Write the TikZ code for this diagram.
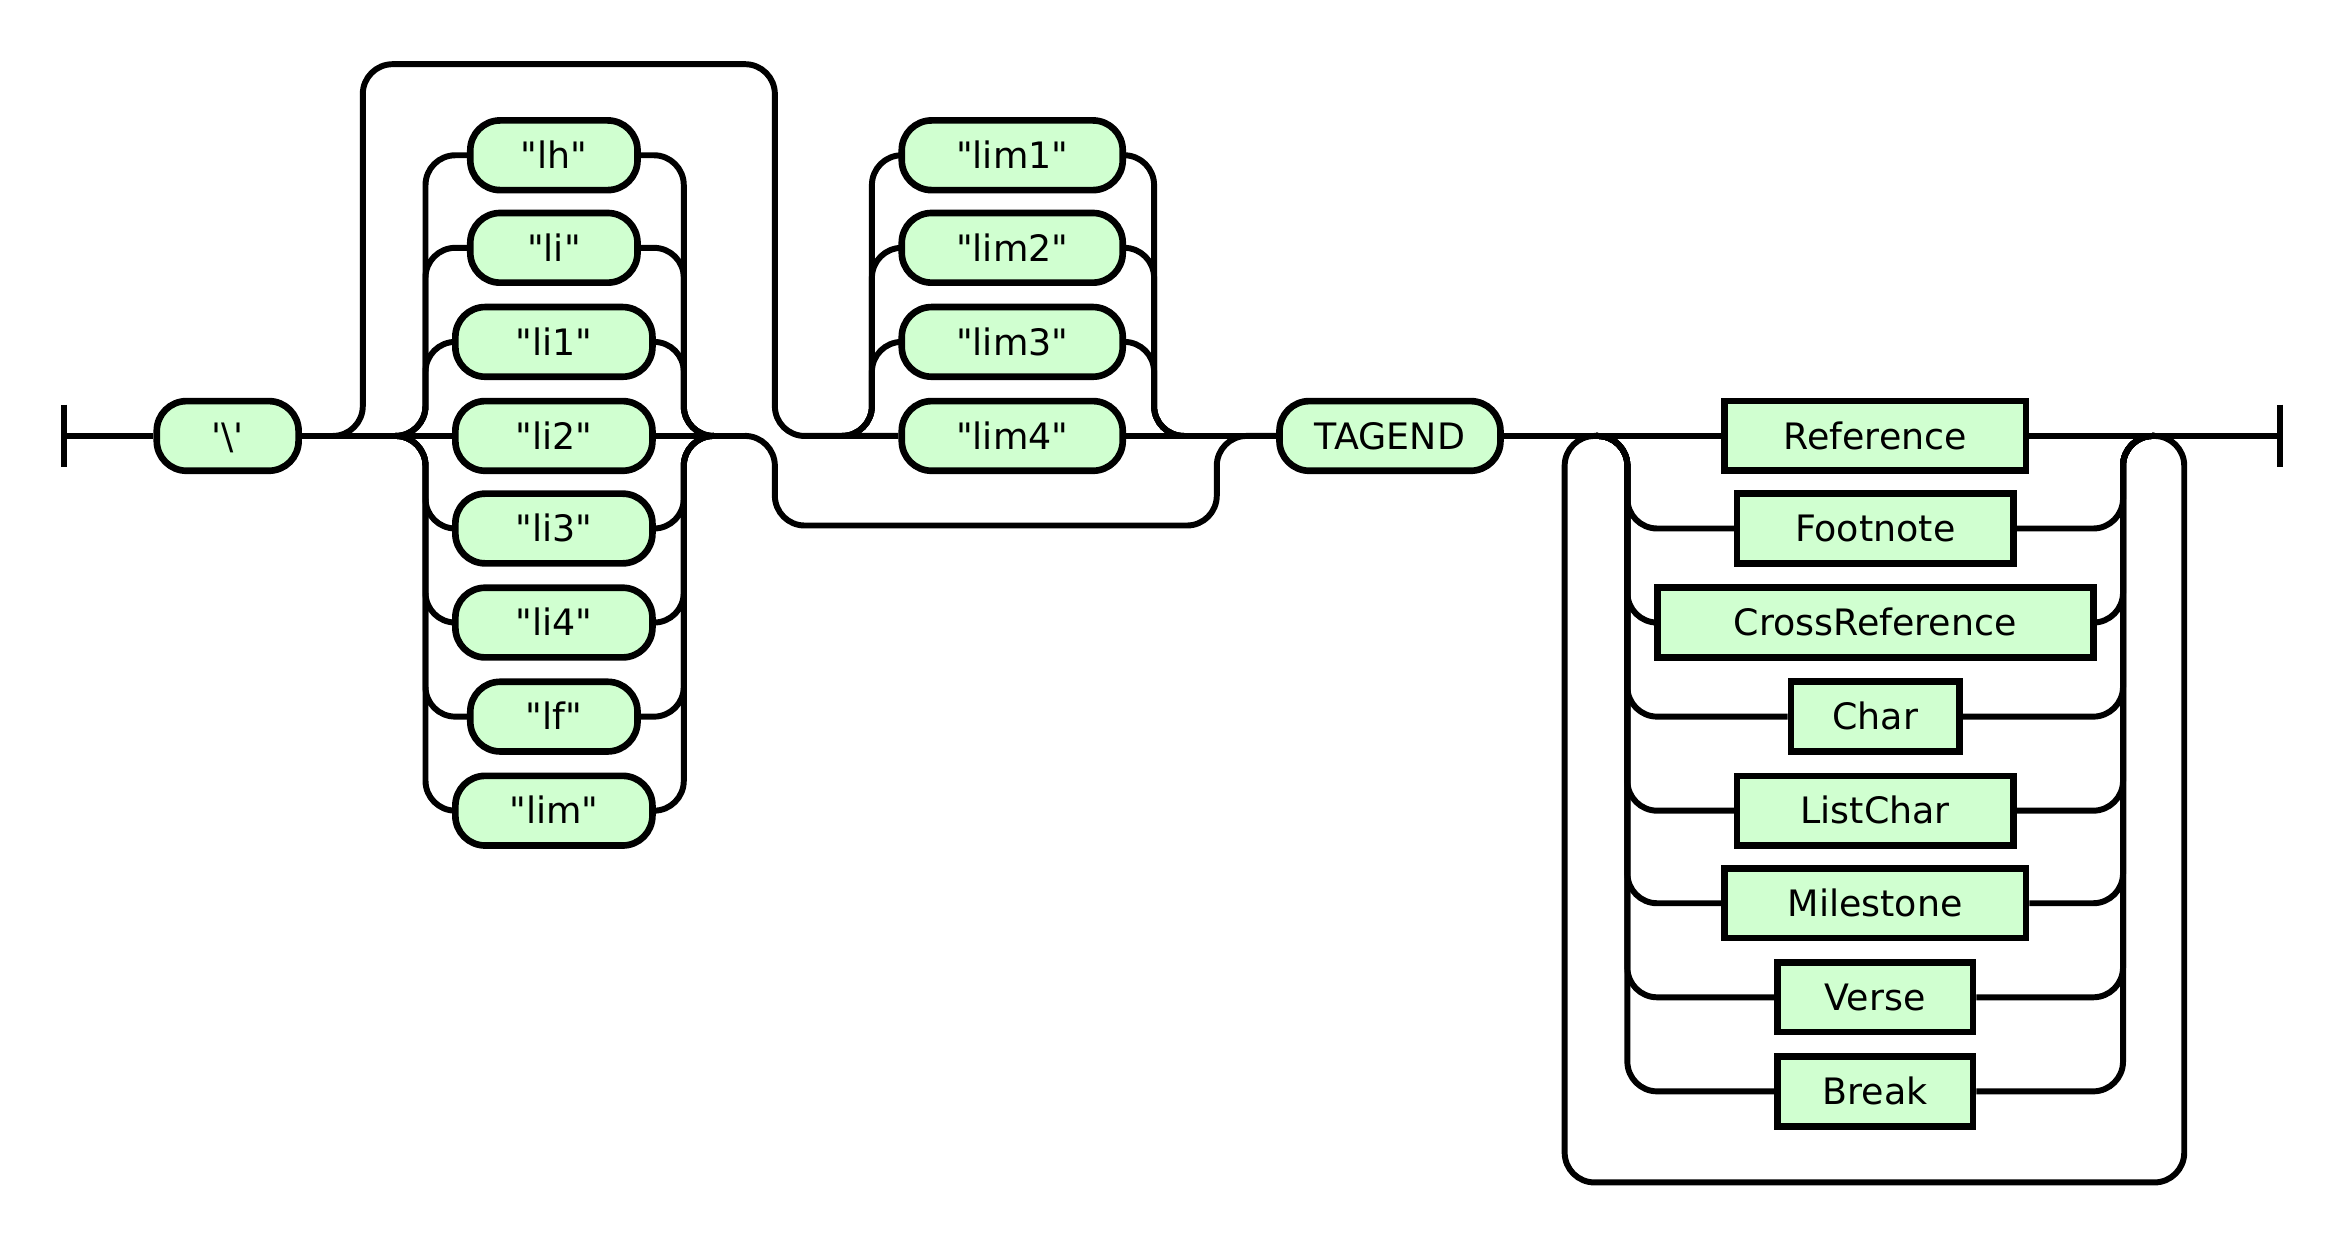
\documentclass[tikz,border=0pt]{standalone}
\usepackage{fontspec}
\setmainfont{DejaVu Sans}
\definecolor{railfill}{RGB}{208,255,208}
\newcommand{\railq}{\textquotedbl}
\tikzset{
  rail/.style={line width=1.7pt, rounded corners=0.3cm},
  bar/.style={line width=1.8pt},
  term/.style={draw, fill=railfill, line width=1.9pt, rounded corners=0.3cm,
    minimum height=0.7cm, inner sep=0pt, text height=7.6pt, text depth=0pt,
    font=\fontsize{10.4}{12}\selectfont},
  nonterm/.style={draw, fill=railfill, line width=1.9pt,
    minimum height=0.7cm, inner sep=0pt, text height=7.6pt, text depth=0pt,
    font=\fontsize{10.4}{12}\selectfont}
}
\begin{document}
\begin{tikzpicture}[x=0.015cm, y=-0.015cm]
    \useasboundingbox (0,0) rectangle (1568,833);

    % start
    \draw[bar] (43,271) -- (43,313);
    \coordinate (start) at (43,292);
    \node[term, minimum width=1.425cm] (slash) at (152.5,292) {\textquotesingle\textbackslash\textquotesingle};

    % first choice
    \node[term, minimum width=1.68cm] (lh)  at (371,104) {\railq lh\railq};
    \node[term, minimum width=1.68cm] (li)  at (371,166) {\railq li\railq};
    \node[term, minimum width=1.98cm] (li1) at (371,229) {\railq li1\railq};
    \node[term, minimum width=1.98cm] (li2) at (371,292) {\railq li2\railq};
    \node[term, minimum width=1.98cm] (li3) at (371,354) {\railq li3\railq};
    \node[term, minimum width=1.98cm] (li4) at (371,417) {\railq li4\railq};
    \node[term, minimum width=1.68cm] (lf)  at (371,480) {\railq lf\railq};
    \node[term, minimum width=1.98cm] (lim) at (371,543) {\railq lim\railq};
    \coordinate (c1in)  at (265,292);
    \coordinate (c1out) at (478,292);

    % second choice
    \node[term, minimum width=2.22cm] (lim1) at (678,104) {\railq lim1\railq};
    \node[term, minimum width=2.22cm] (lim2) at (678,166) {\railq lim2\railq};
    \node[term, minimum width=2.22cm] (lim3) at (678,229) {\railq lim3\railq};
    \node[term, minimum width=2.22cm] (lim4) at (678,292) {\railq lim4\railq};
    \coordinate (c2in)  at (564,292);
    \coordinate (c2out) at (793,292);

    \node[term, minimum width=2.22cm] (tagend) at (931,292) {TAGEND};

    % repeated choice
    \node[nonterm, minimum width=3.03cm]  (ref)   at (1256,292) {Reference};
    \node[nonterm, minimum width=2.775cm] (foot)  at (1256,354) {Footnote};
    \node[nonterm, minimum width=4.38cm]  (cross) at (1256,417) {CrossReference};
    \node[nonterm, minimum width=1.695cm] (char)  at (1256,480) {Char};
    \node[nonterm, minimum width=2.775cm] (list)  at (1256,543) {ListChar};
    \node[nonterm, minimum width=3.03cm]  (mile)  at (1256,605) {Milestone};
    \node[nonterm, minimum width=1.965cm] (verse) at (1256,668) {Verse};
    \node[nonterm, minimum width=1.965cm] (break) at (1256,731) {Break};
    \coordinate (c3in)  at (1069,292);
    \coordinate (c3out) at (1443,292);

    % end
    \draw[bar] (1527,271) -- (1527,313);
    \coordinate (stop) at (1527,292);

    % main line
    \draw[rail] (start) -- (slash.west);
    \draw[rail] (slash.east) -- (li2.west);
    \draw[rail] (li2.east) -- (500,292);
    \draw[rail] (lim4.east) -- (tagend.west);
    \draw[rail] (tagend.east) -- (ref.west);
    \draw[rail] (ref.east) -- (stop);

    % rails of the first choice
    \foreach \n in {lh,li,li1,li3,li4,lf,lim} {
      \draw[rail] (c1in) -- ++(20,0) |- (\n.west);
      \draw[rail] (c1out) -- ++(-20,0) |- (\n.east);
    }

    % rails of the second choice
    \foreach \n in {lim1,lim2,lim3} {
      \draw[rail] (c2in) -- ++(20,0) |- (\n.west);
      \draw[rail] (c2out) -- ++(-20,0) |- (\n.east);
    }

    % skips
    \draw[rail] (223,292) -| (243,43) -| (519,292) -- (lim4.west);
    \draw[rail] (500,292) -| (519,352) -| (815,292) -- (tagend.west);

    % rails of the repeated choice
    \foreach \n in {foot,cross,char,list,mile,verse,break} {
      \draw[rail] (c3in) -- ++(21,0) |- (\n.west);
      \draw[rail] (c3out) -- ++(-21,0) |- (\n.east);
    }
    \draw[rail] (c3out) -| (1463,792) -| (1048,292) -- (c3in);
\end{tikzpicture}
\end{document}
